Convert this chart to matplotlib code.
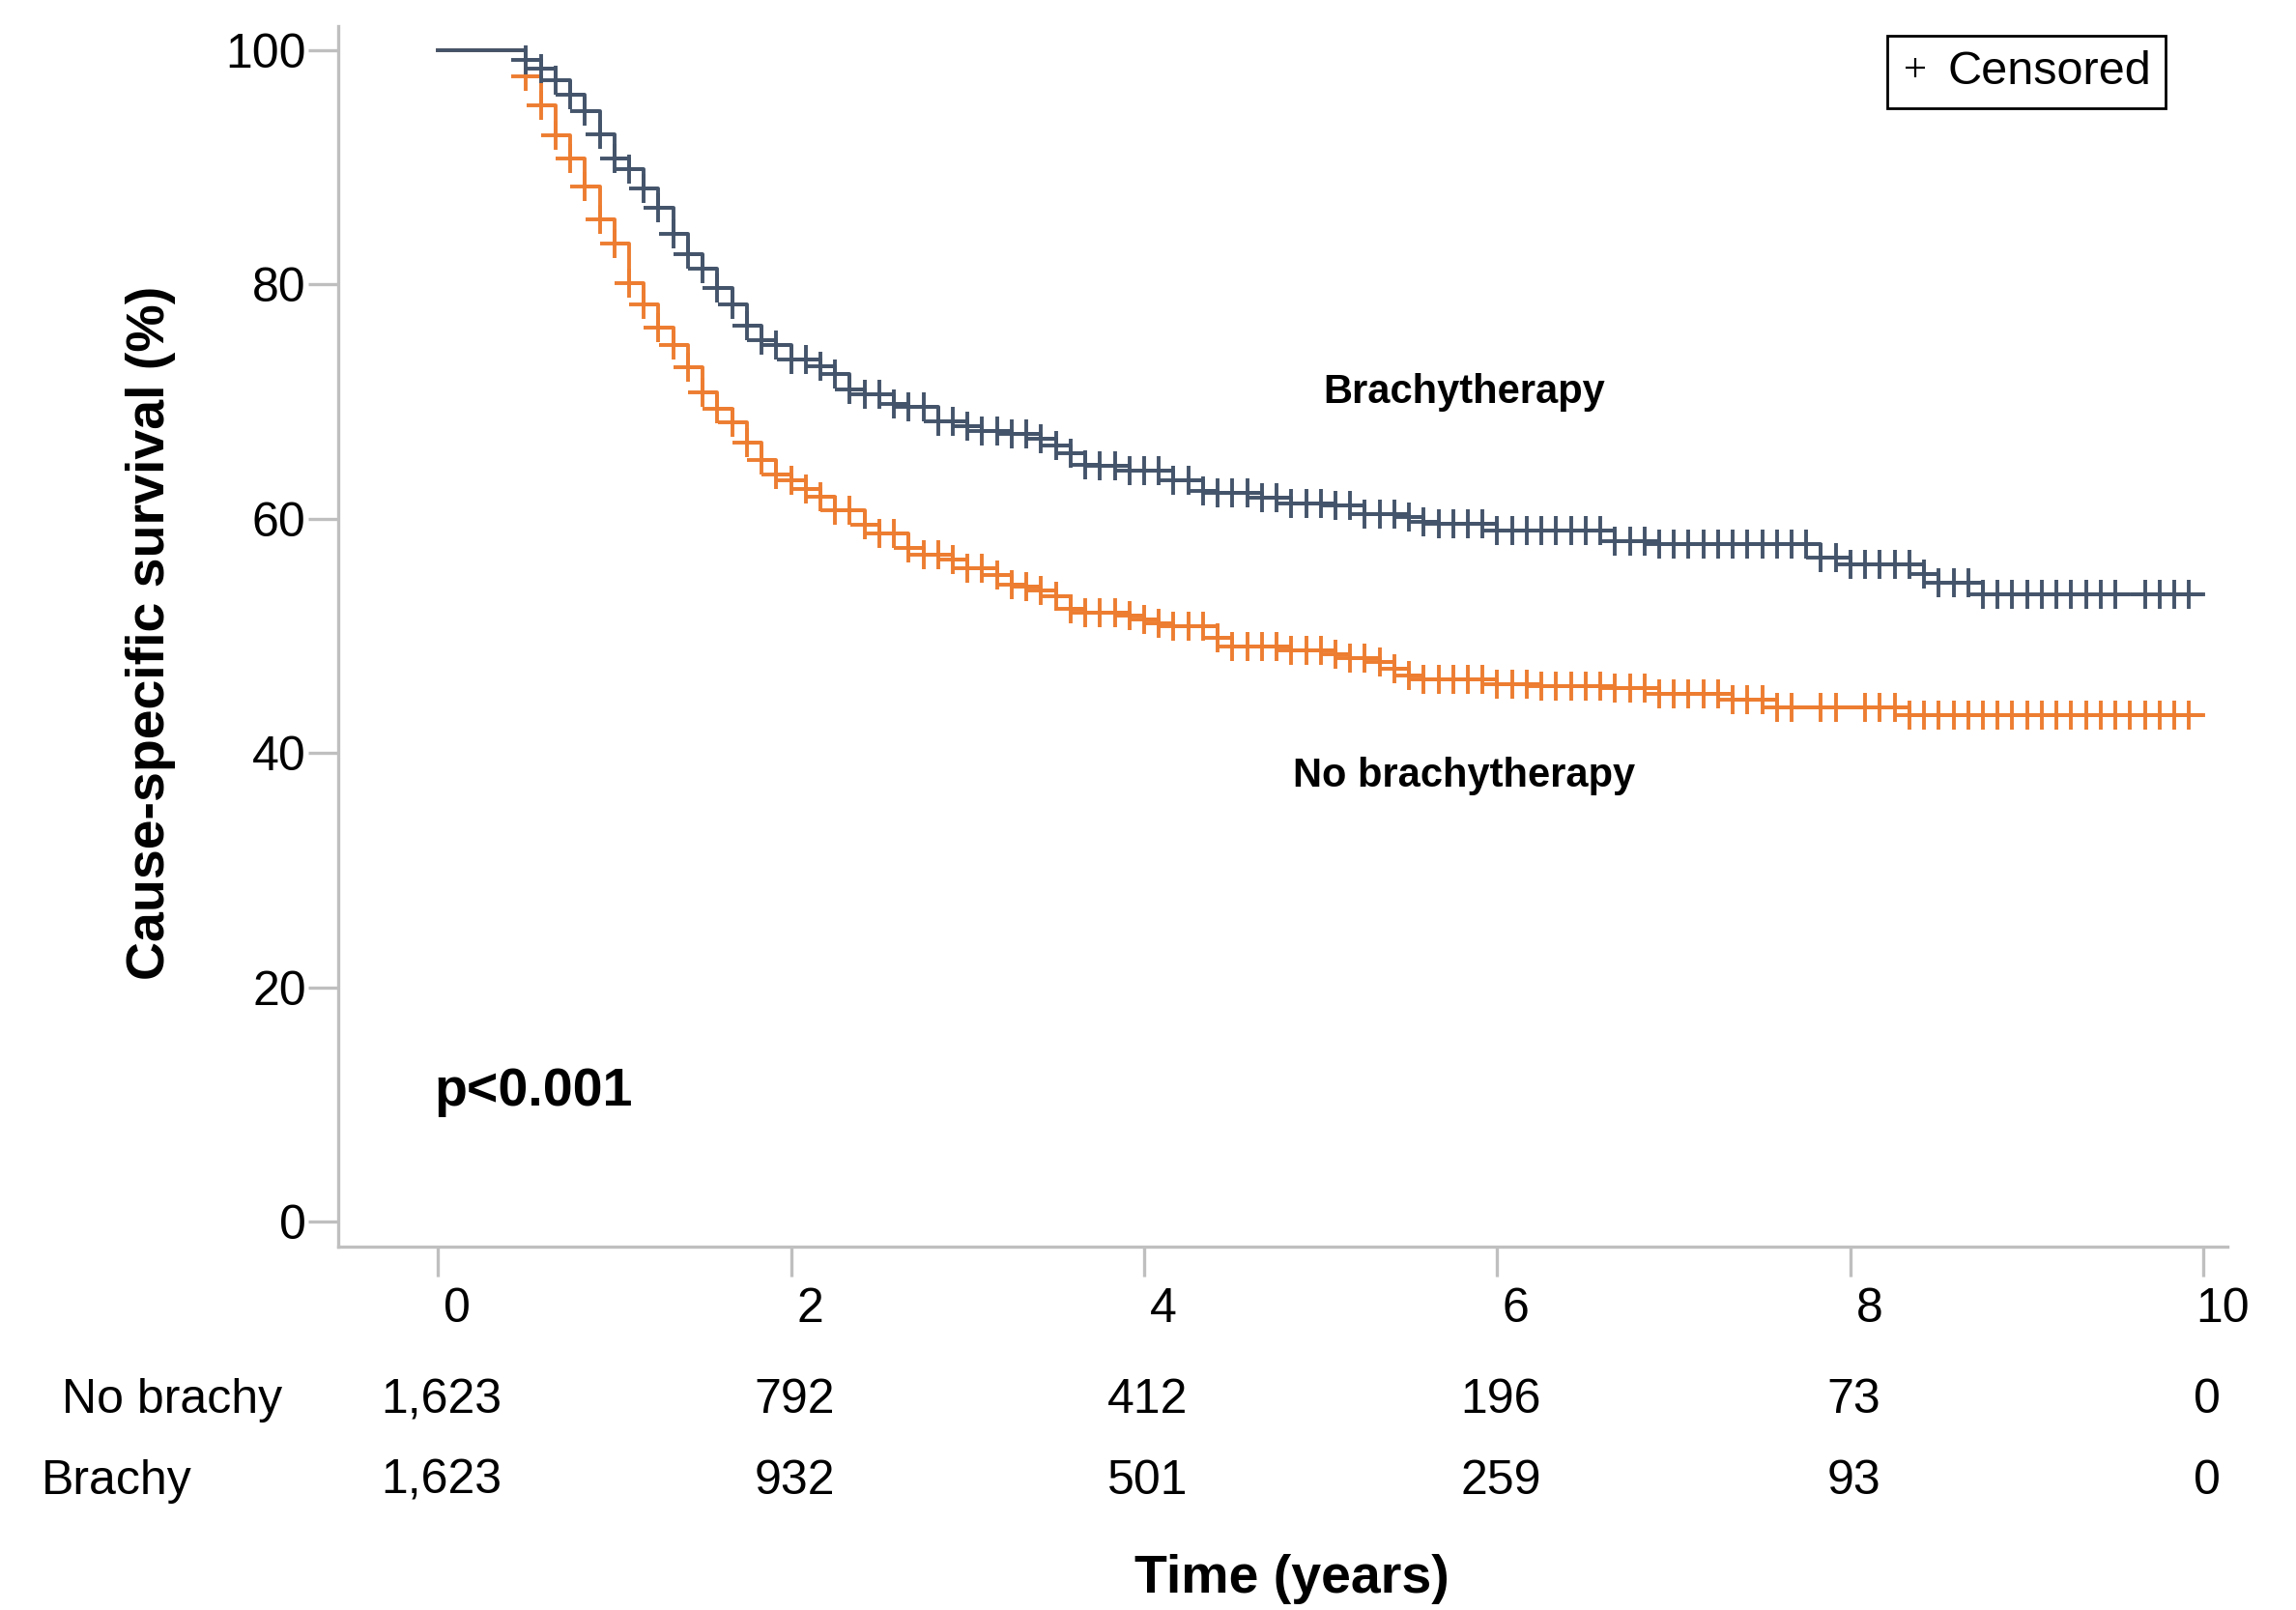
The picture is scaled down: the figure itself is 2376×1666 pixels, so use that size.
import numpy as np
import matplotlib.pyplot as plt
from matplotlib.lines import Line2D
from matplotlib.transforms import ScaledTranslation, blended_transform_factory

plt.rcParams['font.family'] = ['Liberation Sans', 'DejaVu Sans']

# survival steps (month -> % after the drop)
months_brachy = [0, 6, 7, 8, 9, 10, 11, 12, 13, 14, 15, 16, 17, 18, 19, 20, 21, 22, 23, 24,
                 26, 27, 28, 29, 31, 32, 34, 36, 37, 39, 41, 42, 43, 44, 45, 47, 50, 52, 53,
                 56, 58, 61, 63, 66, 67, 68, 72, 80, 83, 94, 96, 101, 102, 105, 120]
surv_brachy = [100, 99.1, 98.4, 97.4, 96.2, 94.8, 92.8, 90.7, 89.8, 88.2, 86.5, 84.3, 82.6,
               81.3, 79.7, 78.3, 76.5, 75.2, 74.8, 73.6, 73.0, 72.3, 71.0, 70.6, 69.8, 69.5,
               68.3, 67.9, 67.5, 67.2, 66.85, 66.2, 65.6, 64.6, 64.5, 64.1, 63.3, 62.4, 62.2,
               61.8, 61.3, 61.1, 60.4, 60.1, 59.7, 59.55, 59.0, 58.1, 57.8, 56.7, 56.1, 55.3,
               54.5, 53.5, 53.5]

months_nobrachy = [0, 6, 7, 8, 9, 10, 11, 12, 13, 14, 15, 16, 17, 18, 19, 20, 21, 22, 23, 24,
                   25, 26, 27, 29, 30, 32, 33, 35, 36, 38, 39, 40, 41, 42, 43, 44, 47, 48, 49,
                   50, 53, 54, 58, 61, 62, 64, 65, 66, 67, 72, 75, 80, 83, 88, 91, 100, 120]
surv_nobrachy = [100, 97.7, 95.3, 92.7, 90.7, 88.3, 85.5, 83.5, 80.1, 78.3, 76.3, 74.8, 72.9,
                 70.8, 69.4, 68.2, 66.5, 65.0, 63.8, 63.3, 62.5, 61.9, 60.7, 59.5, 58.7, 57.5,
                 56.9, 56.5, 55.8, 55.2, 54.4, 54.2, 53.9, 53.4, 52.3, 52.0, 51.7, 51.4, 51.1,
                 50.8, 49.8, 49.1, 48.75, 48.4, 48.06, 47.8, 47.2, 46.6, 46.3, 45.9, 45.7, 45.5,
                 45.07, 44.57, 43.9, 43.25, 43.25]

# months with a censor mark
censor_brachy = [6, 7, 8, 9, 10, 11, 12, 13, 14, 15, 16, 17, 18, 19, 20, 21, 22, 23, 24, 25,
                 26, 27, 28, 29, 30, 31, 32, 33, 34, 35, 36, 37, 38, 39, 40, 41, 42, 43, 44, 45,
                 46, 47, 48, 49, 50, 51, 52, 53, 54, 55, 56, 57, 58, 59, 60, 61, 62, 63, 64, 65,
                 66, 67, 68, 69, 70, 71, 72, 73, 74, 75, 76, 77, 78, 79, 80, 81, 82, 83, 84, 85,
                 86, 87, 88, 89, 90, 91, 92, 93, 94, 95, 96, 97, 98, 99, 100, 101, 102, 103,
                 104, 105, 106, 107, 108, 109, 110, 111, 112, 113, 114, 116, 117, 118, 119]
censor_nobrachy = [6, 7, 8, 9, 10, 11, 12, 13, 14, 15, 16, 17, 18, 19, 20, 21, 22, 23, 24, 25,
                   26, 27, 28, 29, 30, 31, 32, 33, 34, 35, 36, 37, 38, 39, 40, 41, 42, 43, 44, 45,
                   46, 47, 48, 49, 50, 51, 52, 53, 54, 55, 56, 57, 58, 59, 60, 61, 62, 63, 64, 65,
                   66, 67, 68, 69, 70, 71, 72, 73, 74, 75, 76, 77, 78, 79, 80, 81, 82, 83, 84, 85,
                   86, 87, 88, 89, 90, 91, 92, 94, 95, 97, 98, 99, 100, 101, 102, 103,
                   104, 105, 106, 107, 108, 109, 110, 111, 112, 113, 114, 115, 116, 117, 118, 119]

risk_years = [0, 2, 4, 6, 8, 10]
risk_nobrachy = ['1,623', '792', '412', '196', '73', '0']
risk_brachy = ['1,623', '932', '501', '259', '93', '0']

BLUE = '#44546A'
ORANGE = '#ED7D31'
GREY = '#BFBFBF'


def km(ax, months, surv, cens, color):
    m = np.array(months)
    s = np.array(surv)
    ax.step(m / 12, s, where='post', color=color, lw=1.4, zorder=3)
    c = np.array(cens)
    idx = np.searchsorted(m, c, side='right') - 1
    ax.plot(c / 12, s[idx], ls='none', marker='+', ms=11, mew=1.4, color=color, zorder=4)


fig = plt.figure(figsize=(11.88, 8.33), dpi=200)
ax = fig.add_axes([0.1473, 0.2257, 0.8227, 0.7579])

km(ax, months_nobrachy, surv_nobrachy, censor_nobrachy, ORANGE)
km(ax, months_brachy, surv_brachy, censor_brachy, BLUE)

ax.set_xlim(-0.564, 10.133)
ax.set_ylim(-2.125, 102)
ax.set_xticks(risk_years)
ax.set_yticks([0, 20, 40, 60, 80, 100])
for sp in ['top', 'right']:
    ax.spines[sp].set_visible(False)
for sp in ['left', 'bottom']:
    ax.spines[sp].set_color(GREY)
    ax.spines[sp].set_linewidth(1.2)
ax.tick_params(axis='both', direction='out', length=11, width=1.2, color=GREY, labelsize=18)
ax.tick_params(axis='y', pad=1)
ax.tick_params(axis='x', pad=4)
for lbl in ax.get_xticklabels():
    lbl.set_transform(lbl.get_transform() + ScaledTranslation(7 / 72, 0, fig.dpi_scale_trans))

# group labels and p value
ax.text(5.81, 70.75, 'Brachytherapy', fontsize=15, fontweight='bold', ha='center', va='center')
ax.text(5.81, 38.0, 'No brachytherapy', fontsize=15, fontweight='bold', ha='center', va='center')
ax.text(-0.02, 11.1, 'p<0.001', fontsize=20, fontweight='bold', ha='left', va='center')

handle = Line2D([], [], ls='none', marker='+', color='black', ms=7, mew=0.8)
leg = ax.legend([handle], ['Censored'], loc='upper right', bbox_to_anchor=(0.9675, 0.992),
                frameon=True, fancybox=False, edgecolor='black', framealpha=1, fontsize=17.5,
                handlelength=0.6, handletextpad=0.4, borderpad=0.3, borderaxespad=0)
leg.get_frame().set_linewidth(1.0)

# number at risk table
tr = blended_transform_factory(ax.transData, fig.transFigure)
for x, n1, n2 in zip(risk_years, risk_nobrachy, risk_brachy):
    ax.text(x + 0.02, 0.130, n1, transform=tr, ha='center', va='center', fontsize=18)
    ax.text(x + 0.02, 0.080, n2, transform=tr, ha='center', va='center', fontsize=18)
fig.text(0.0268, 0.130, 'No brachy', ha='left', va='center', fontsize=18)
fig.text(0.0179, 0.080, 'Brachy', ha='left', va='center', fontsize=18)

fig.text(0.5625, 0.019, 'Time (years)', ha='center', va='center', fontsize=20, fontweight='bold')
fig.text(0.0657, 0.607, 'Cause-specific survival (%)', ha='center', va='center',
         rotation=90, fontsize=20, fontweight='bold')

fig.savefig('out.png', dpi=200)
